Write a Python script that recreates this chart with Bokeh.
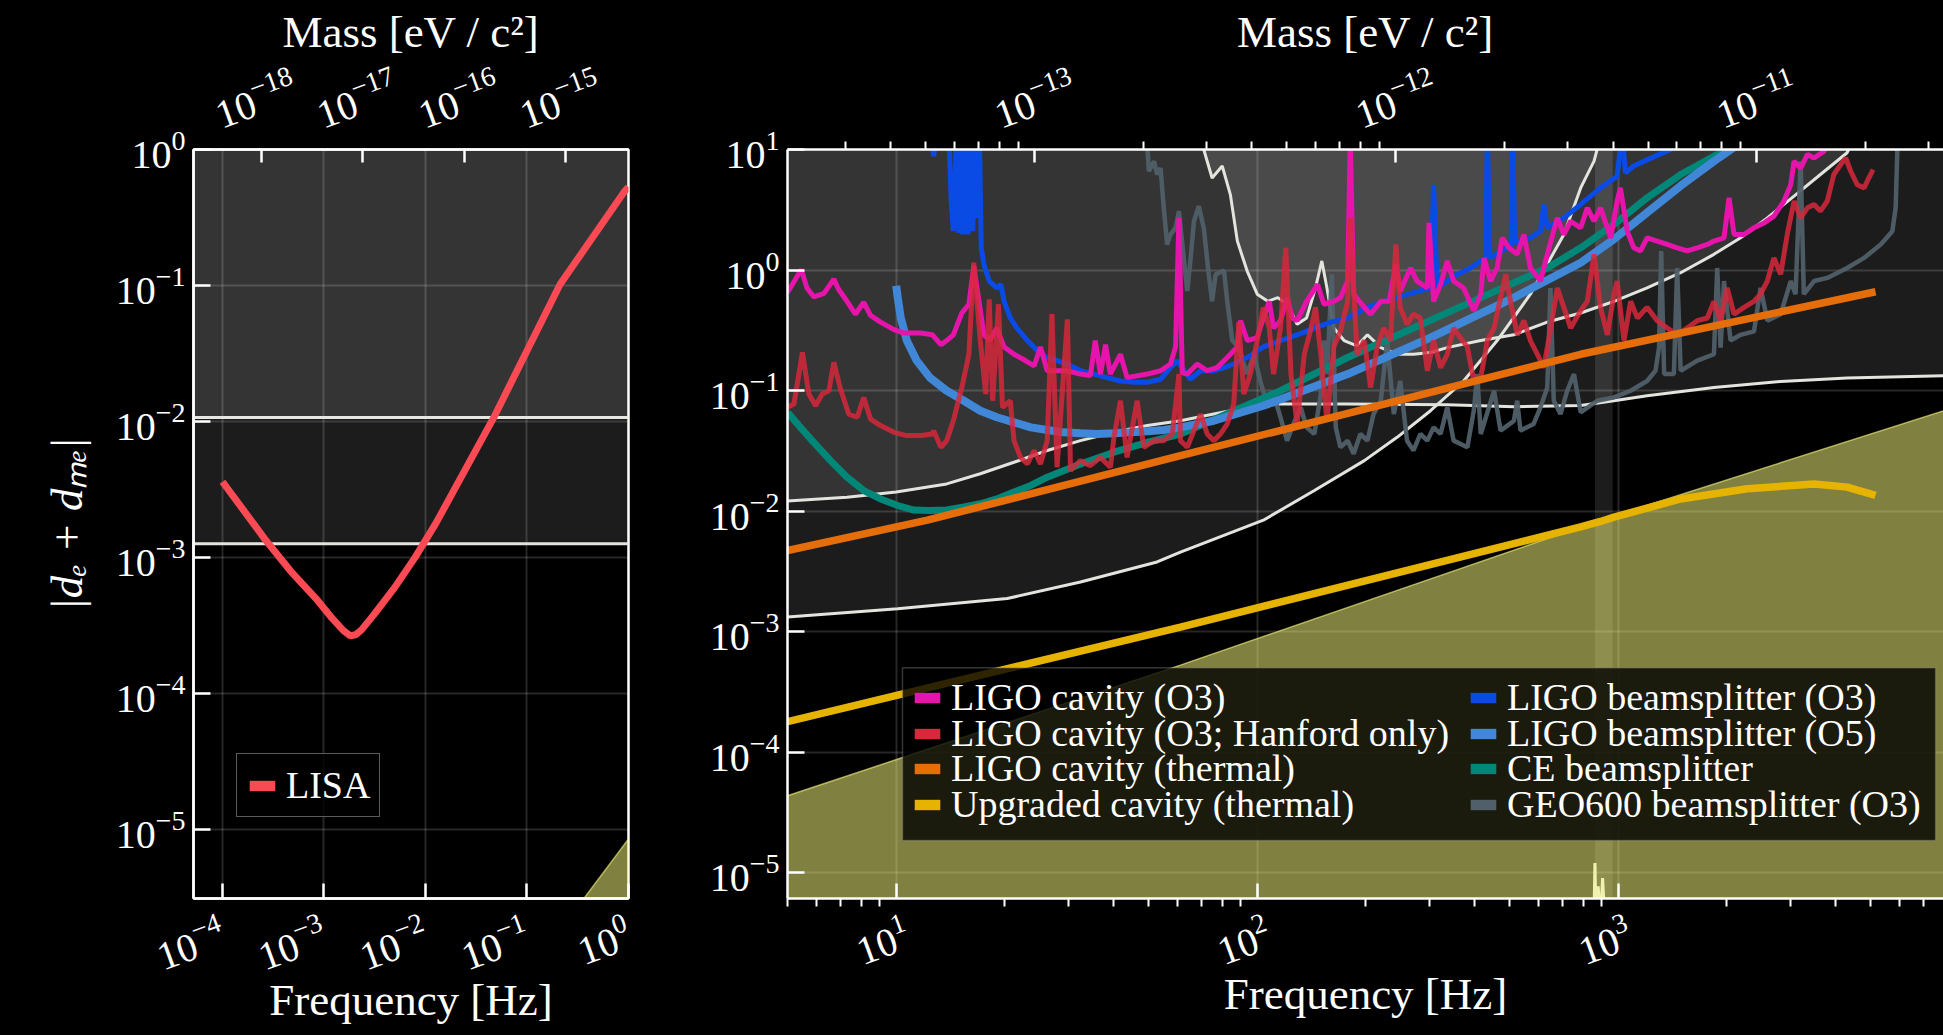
import math
from bokeh.plotting import figure
from bokeh.models import (Range1d, LogAxis, LogScale, FixedTicker, LogTickFormatter,
                          CustomJSTickFormatter, Legend, LegendItem, BoxAnnotation, Span)
from bokeh.layouts import row
from bokeh.embed import file_html
from bokeh.resources import INLINE

EV_PER_HZ = 4.135667696e-15   # mass [eV/c^2] per frequency [Hz]
NAN = float("nan")

# ---------------------------------------------------------------- left panel data (LISA)
left_f_range = [5.18e-5, 1.0]
left_d_range = [3.1e-6, 1.0]
left_f_ticks = [1e-4, 1e-3, 1e-2, 1e-1, 1.0]
left_d_ticks = [1e-5, 1e-4, 1e-3, 1e-2, 1e-1, 1.0]
left_mass_ticks = [1e-18, 1e-17, 1e-16, 1e-15]

lisa_f = [1.0e-4, 2.02e-4, 2.68e-4, 4.71e-4, 8.3e-4, 1.2e-3, 1.55e-3, 1.81e-3, 2.05e-3,
          2.33e-3, 3.09e-3, 4.94e-3, 7.9e-3, 1.26e-2, 4.71e-2, 0.212, 0.91, 1.0]
lisa_d = [3.6e-3, 1.77e-3, 1.33e-3, 7.9e-4, 5.0e-4, 3.57e-4, 2.9e-4, 2.65e-4, 2.7e-4,
          2.92e-4, 3.78e-4, 5.97e-4, 1.0e-3, 1.77e-3, 1.07e-2, 0.102, 0.49, 0.53]
lisa_limits = [1.07e-2, 1.26e-3]

# shared olive region (both panels)
olive_f = [1e-4, 0.34, 1.0, 5.0, 61.3, 787.0, 893.0, 7965.0]
olive_d = [8.5e-10, 2.9e-6, 8.5e-6, 4.34e-5, 5.27e-4, 7.36e-3, 8.4e-3, 0.068]

# ---------------------------------------------------------------- right panel data
right_f_range = [5.0, 7960.0]
right_d_range = [6.1e-6, 10.0]
right_f_ticks = [10, 100, 1000]
right_f_minor = [5, 6, 7, 8, 9, 20, 30, 40, 50, 60, 70, 80, 90,
                 200, 300, 400, 500, 600, 700, 800, 900, 2000, 3000, 4000, 5000, 6000, 7000]
right_d_ticks = [1e-5, 1e-4, 1e-3, 1e-2, 1e-1, 1.0, 10.0]
right_mass_ticks = [1e-13, 1e-12, 1e-11]
right_mass_minor = [3e-14, 4e-14, 5e-14, 6e-14, 7e-14, 8e-14, 9e-14,
                    2e-13, 3e-13, 4e-13, 5e-13, 6e-13, 7e-13, 8e-13, 9e-13,
                    2e-12, 3e-12, 4e-12, 5e-12, 6e-12, 7e-12, 8e-12, 9e-12, 2e-11, 3e-11]

# LIGO cavity (O3)
cav_o3_f = [5.0, 5.46, 5.66, 5.91, 6.31, 6.72, 6.93, 7.31, 7.71, 8.13, 8.49, 9.05, 9.86, 10.5,
            11.7, 12.6, 13.3, 13.8, 14.4, 15.2, 15.9, 16.4, 16.9, 17.5, 18.2, 19.0, 19.9, 21.2,
            22.6, 24.1, 25.1, 26.2, 29.8, 32.4, 34.5, 35.6, 36.8, 38.0, 39.2, 41.8, 43.6, 49.6,
            54.0, 57.5, 59.4, 60.7, 62.0, 64.0, 68.2, 72.7, 77.4, 82.6, 88.1, 89.9, 93.8, 100,
            104, 108, 111, 116, 121, 125, 129, 137, 147, 153, 163, 170, 178, 181, 185, 198, 206,
            220, 232, 242, 249, 266, 277, 296, 299, 308, 322, 336, 350, 373, 398, 416, 425, 443,
            462, 477, 498, 525, 548, 571, 609, 636, 678, 707, 738, 787, 821, 857, 893, 953, 993,
            1014, 1059, 1104, 1153, 1202, 1282, 1367, 1456, 1552, 1655, 1765, 1841, 1963, 2027,
            2093, 2230, 2377, 2535, 2700, 2877, 3004, 3069, 3201, 3342, 3487, 3715, 3875]
cav_o3_d = [0.65, 1.01, 0.71, 0.60, 0.64, 0.84, 0.69, 0.55, 0.43, 0.54, 0.42, 0.37, 0.32, 0.30,
            0.30, 0.29, 0.24, 0.26, 0.29, 0.44, 0.52, 1.08, 0.59, 0.29, 0.26, 0.33, 0.23, 0.20,
            0.18, 0.16, 0.23, 0.146, 0.146, 0.137, 0.133, 0.26, 0.137, 0.24, 0.137, 0.20, 0.128, 0.137,
            0.146, 0.166, 0.23, 2.71, 0.14, 0.137, 0.166, 0.146, 0.155, 0.188, 0.23, 0.38, 0.26, 0.275,
            0.40, 0.55, 0.33, 0.38, 0.59, 0.40, 0.38, 0.55, 0.76, 0.52, 0.55, 0.59, 0.81, 12.0, 0.63, 0.49, 0.43,
            0.55, 0.55, 1.11, 0.67, 1.04, 0.81, 0.71, 2.46, 0.55, 0.76, 1.19, 0.81, 0.71, 0.46, 0.63, 1.26, 0.81,
            1.04, 1.85, 1.53, 1.35, 1.97, 1.04, 0.81, 1.35, 2.71, 1.97, 2.54, 2.24, 3.28, 2.54, 3.28, 1.85, 3.73,
            4.8, 2.10, 1.53, 1.44, 1.85, 1.74, 1.63, 1.53, 1.44, 1.53, 1.63, 1.74, 1.85, 3.97,
            1.97, 1.97, 2.24, 2.46, 2.80, 3.73, 5.1, 8.0, 7.0, 9.1, 8.5, 9.7, 12.0]

# LIGO cavity (O3; Hanford only)
cav_h1_f = [5.0, 5.21, 5.50, 5.73, 5.98, 6.24, 6.51, 6.72, 7.01, 7.39, 7.80, 8.13, 8.49, 9.05,
            9.86, 10.7, 11.7, 12.6, 12.7, 13.3, 13.8, 14.4, 15.2, 15.9, 16.4, 17.1, 17.7, 18.1,
            18.5, 19.2, 19.7, 20.7, 21.2, 22.1, 23.1, 24.1, 25.1, 26.2, 27.0, 27.9, 29.8, 30.4,
            32.4, 34.5, 36.8, 39.2, 40.1, 41.8, 43.6, 46.5, 48.5, 51.8, 55.1, 58.2, 60.7, 61.3,
            64.0, 66.8, 69.7, 72.7, 75.8, 79.1, 82.6, 86.1, 88.9, 91.8, 95.7, 100, 104, 108, 111,
            116, 120, 124, 129, 135, 141, 145, 150, 156, 163, 170, 178, 181, 189, 198, 206, 215,
            224, 234, 242, 249, 260, 271, 283, 296, 308, 322, 336, 350, 365, 382, 398, 416, 434,
            453, 472, 488, 503, 525, 548, 571, 597, 622, 650, 678, 707, 738, 787, 821, 857, 893,
            933, 973, 993, 1037, 1082, 1130, 1202, 1282, 1367, 1456, 1552, 1655, 1765, 1841, 1920,
            2003, 2093, 2230, 2377, 2479, 2588, 2700, 2818, 2938, 3069, 3201, 3342, 3487, 3631,
            3793, 3955, 4130, 4266, 4406, 4592, 4797, 4943, 5082]
cav_h1_d = [0.0725, 0.0773, 0.207, 0.0935, 0.0748, 0.0935, 0.0996, 0.171, 0.103, 0.0638, 0.060, 0.0877, 0.058, 0.0512,
            0.045, 0.0423, 0.0423, 0.0436, 0.0465, 0.0338, 0.0384, 0.0562, 0.106, 0.20, 1.15, 0.26, 0.0935, 0.57,
            0.0823, 0.52, 0.0725, 0.0823, 0.0384, 0.0279, 0.0246, 0.0318, 0.0246, 0.0384, 0.43, 0.0231, 0.39, 0.0217,
            0.0262, 0.0238, 0.0279, 0.0231, 0.0409, 0.0823, 0.0279, 0.0823, 0.0338, 0.0384, 0.0384, 0.0436, 0.137, 0.0384,
            0.0338, 0.0465, 0.0638, 0.0436, 0.0384, 0.0436, 0.0528, 0.0773, 0.37, 0.0935, 0.137, 0.26, 0.49, 0.33, 0.137,
            0.33, 1.53, 0.137, 0.0528, 0.20, 0.33, 0.49, 0.20, 0.0562, 0.23, 0.31, 0.55, 2.71, 0.20, 0.26, 0.106, 0.23,
            0.33, 0.26, 1.63, 0.49, 0.355, 0.43, 0.40, 0.146, 0.26, 0.155, 0.20, 0.33, 0.275, 0.23, 0.12, 0.128, 0.26,
            0.33, 0.59, 0.92, 0.55, 0.29, 0.38, 0.26, 0.20, 0.155, 0.33, 0.71, 0.49, 0.33, 0.46, 0.55, 1.35, 0.49,
            0.29, 0.63, 0.81, 0.26, 0.55, 0.40, 0.49, 0.38, 0.33, 0.29, 0.33, 0.38, 0.40, 0.55, 0.38,
            0.71, 0.43, 0.49, 0.55, 0.63, 0.81, 1.26, 0.92, 1.97, 3.73, 2.71, 3.28, 3.50, 3.08,
            3.73, 6.2, 7.5, 8.5, 6.6, 5.1, 4.8, 5.8, 6.8]

# LIGO cavity (thermal)
cav_th_f = [5.0, 12.2, 61.3, 787.0, 5160.0]
cav_th_d = [4.7e-3, 8.4e-3, 0.0288, 0.20, 0.66]

# Upgraded cavity (thermal)
up_th_f = [5.0, 61.3, 787.0, 893.0, 973.0, 1489.0, 2277.0, 3487.0, 4305.0, 5160.0]
up_th_d = [1.79e-4, 1.09e-3, 7.4e-3, 8.2e-3, 8.9e-3, 0.0126, 0.0153, 0.0168, 0.0158, 0.0135]

# LIGO beamsplitter (O3)
bs_o3_f = [12.4, 12.7, 13.0, 14.0, 14.2, 14.4, 14.7, 14.9, 15.1, 15.3, 15.6, 15.8, 16.0, 16.3,
           16.5, 16.8, 17.0, 17.2, 17.5, 18.1, 19.0, 19.5, 19.9, 20.7, 21.6, 23.1, 24.6, 26.2,
           27.9, 29.8, 32.4, 35.3, 38.4, 41.8, 45.5, 49.6, 54.0, 57.5, 60.0, 65.3, 69.7, 75.8,
           80.9, 86.1, 93.8, 104, 116, 129, 144, 160, 178, 202, 220, 244, 271, 302, 308, 315,
           336, 358, 390, 416, 429, 434, 441, 492, 505, 510, 517, 571, 609, 622, 636, 707, 787,
           838, 893, 953, 993, 1025, 1047, 1104, 1202, 1309, 1396, 1456]
bs_o3_d = [14.0, 8.8, 14.0, 14.0, 3.73, 2.10, 14.0, 2.03, 14.0, 1.97, 14.0, 1.97, 14.0, 2.1,
           14.0, 2.71, 14.0, 1.53, 1.11, 0.81, 0.71, 0.76, 0.55, 0.40, 0.33, 0.26, 0.214, 0.188,
           0.177, 0.166, 0.146, 0.137, 0.128, 0.12, 0.117, 0.117, 0.124, 0.155, 0.177, 0.124, 0.146, 0.146,
           0.155, 0.166, 0.188, 0.23, 0.26, 0.29, 0.33, 0.37, 0.40, 0.49, 0.54, 0.59, 0.65, 0.71, 5.1, 0.71,
           0.81, 0.92, 1.04, 1.19, 1.19, 14.0, 1.26, 1.53, 1.63, 14.0, 1.68, 1.85, 2.10, 3.50, 2.24, 2.71, 3.50,
           4.1, 4.8, 5.5, 6.0, 14.0, 6.4, 7.3, 8.2, 9.2, 10.0, 12.0]

# LIGO beamsplitter (O5)
bs_o5_f = [10.0, 10.1, 10.3, 10.7, 11.4, 12.4, 13.8, 15.4, 17.1, 19.0, 21.2, 23.6, 26.2, 29.1,
           32.4, 36.0, 40.1, 44.6, 49.6, 55.1, 61.3, 75.8, 104, 178, 302, 514, 787, 973, 1202,
           1489, 1841, 2100]
bs_o5_d = [0.74, 0.59, 0.40, 0.26, 0.177, 0.128, 0.0996, 0.0823, 0.068, 0.060, 0.0545, 0.0495, 0.0471, 0.045,
           0.0442, 0.0436, 0.0442, 0.045, 0.0459, 0.0471, 0.0495, 0.0562, 0.0748, 0.137, 0.275, 0.59, 1.15, 1.8, 3.0,
           5.0, 8.0, 10.5]

# CE beamsplitter
ce_f = [5.0, 5.43, 5.91, 6.58, 7.31, 8.13, 9.05, 10.1, 11.2, 12.4, 13.8, 15.4, 17.1, 19.0, 21.2,
        23.6, 26.2, 32.4, 40.1, 49.6, 61.3, 116, 178, 271, 416, 636, 787, 973, 1202, 1489, 1841, 2047]
ce_d = [0.066, 0.0495, 0.0372, 0.0262, 0.0191, 0.0148, 0.0126, 0.0111, 0.0102, 0.0101, 0.0102, 0.0108, 0.0115, 0.0126, 0.0144,
        0.0163, 0.0191, 0.0246, 0.0308, 0.0372, 0.0436, 0.0996, 0.188, 0.33, 0.59, 1.04, 1.53, 2.39, 3.97, 6.2, 8.8, 10.3]

# GEO600 beamsplitter (O3)
geo_f = [49.5, 50.1, 51.8, 52.8, 54.0, 55.1, 56.3, 57.5, 59.4, 60.7, 62.6, 64.0, 65.3, 66.8, 68.9,
         71.1, 73.4, 75.0, 76.7, 80.9, 82.6, 85.3, 88.9, 93.8, 97.9, 102, 107, 111, 116, 121, 126,
         132, 137, 144, 150, 153, 156, 161, 165, 170, 178, 185, 193, 202, 210, 220, 229, 239, 249,
         260, 271, 283, 296, 308, 322, 336, 350, 382, 398, 407, 416, 453, 472, 514, 525, 536, 583,
         609, 636, 649, 663, 692, 722, 754, 787, 875, 973, 1082, 1202, 1268, 1297, 1315, 1340, 1426,
         1456, 1489, 1655, 1841, 1880, 1921, 1963, 2047, 2183, 2377, 2479, 2588, 2818, 3004, 3098,
         3201, 3266, 3487, 3793, 4305, 4797, 5333, 5745, 5867, 5929, 5980]
geo_d = [12.0, 6.6, 8.0, 6.2, 7.0, 3.28, 1.63, 1.97, 2.24, 3.08, 1.26, 0.67, 1.19, 2.54, 3.39,
         2.24, 0.92, 0.55, 0.92, 0.99, 0.55, 0.26, 0.227, 0.137, 0.20, 0.12, 0.0725, 0.0935, 0.060, 0.0384, 0.0528,
         0.0725, 0.0495, 0.0436, 0.0935, 0.26, 0.137, 0.92, 0.0495, 0.0338, 0.0384, 0.0298, 0.0436, 0.0384, 0.0638, 0.0823, 0.26, 0.0638, 0.12,
         0.0384, 0.0318, 0.0436, 0.0384, 0.0495, 0.0436, 0.0725, 0.0384, 0.0338, 0.068, 0.137, 0.0436, 0.0996, 0.0465, 0.056, 0.0823, 0.0465, 0.0528,
         0.0725, 0.106, 0.71, 0.0823, 0.0638, 0.0996, 0.137, 0.066, 0.0823, 0.0877, 0.0996, 0.12, 0.146, 0.227, 1.44, 0.137, 0.137,
         1.04, 0.146, 0.177, 0.20, 1.04, 0.227, 0.81, 0.26, 0.29, 0.31, 0.71, 0.38, 0.43, 0.81, 0.63,
         8.0, 0.63, 0.81, 0.86, 1.04, 1.26, 1.63, 2.10, 3.28, 9.7, 12.0]

# existing constraints (white curves, shaded above)
con_a_f = [5.0, 7.31, 10.0, 13.8, 17.1, 21.2, 26.2, 32.4, 40.1, 49.6, 61.3, 75.8, 93.8, 116, 178,
           336, 514, 787, 973, 1202, 1841, 2818, 4305, 7965]
con_a_d = [0.0121, 0.0130, 0.0144, 0.0168, 0.0204, 0.0254, 0.0318, 0.0384, 0.045, 0.0512, 0.0562, 0.0638, 0.0725, 0.0773, 0.0773,
           0.0762, 0.0734, 0.075, 0.0823, 0.0906, 0.106, 0.119, 0.127, 0.133]
con_b_f = [69.7, 71.1, 75.0, 80.0, 84.3, 88.1, 93.8, 100, 107, 114, 121, 129, 137, 145, 151, 156,
           163, 174, 189, 202, 220, 244, 271, 302, 336, 416, 514, 636, 787, 973, 1202, 1489, 1841,
           2183, 2588, 3069, 3631, 4305, 4580]
con_b_d = [14.0, 10.0, 5.8, 7.3, 4.2, 1.74, 0.98, 0.63, 0.55, 0.59, 0.52, 0.355, 0.40, 0.71, 1.19, 0.71,
           0.33, 0.26, 0.235, 0.29, 0.227, 0.20, 0.20, 0.207, 0.227, 0.26, 0.29, 0.37, 0.44, 0.55, 0.71, 0.95, 1.35,
           1.85, 2.71, 4.1, 6.2, 9.4, 14.0]
con_c_f = [5.0, 10.1, 20.3, 32.4, 52.8, 61.3, 104, 144, 198, 244, 302, 373, 462, 571, 707, 787, 857, 900]
con_c_d = [1.32e-3, 1.55e-3, 1.88e-3, 2.58e-3, 3.78e-3, 4.57e-3, 8.4e-3, 0.0148, 0.0262, 0.0409, 0.068, 0.12,
           0.26, 0.63, 1.97, 4.8, 8.0, 14.0]
auriga_band = [862.0, 965.0]
auriga_f = [856, 862, 868, 880, 893, 905, 918, 935, 950]
auriga_d = [4e-6, 1.2e-5, 4e-6, 7.7e-6, 4e-6, 9e-6, 4e-6, 6e-6, 4e-6]

legend_col1 = ["LIGO cavity (O3)", "LIGO cavity (O3; Hanford only)",
               "LIGO cavity (thermal)", "Upgraded cavity (thermal)"]
legend_col2 = ["LIGO beamsplitter (O3)", "LIGO beamsplitter (O5)",
               "CE beamsplitter", "GEO600 beamsplitter (O3)"]

# ---------------------------------------------------------------- styling / layout constants
FONT = "Liberation Serif"
WHITE_LINE = "#e2e4de"
OLIVE = "#ffff80"
C_LISA = "#fc4a55"
C_CAV_O3 = "#e614aa"
C_CAV_H1 = "#d7283c"
C_CAV_TH = "#e66e0a"
C_UP_TH = "#e6b400"
C_BS_O3 = "#0a4be6"
C_BS_O5 = "#4187d7"
C_CE = "#008778"
C_GEO = "#505f69"
SHADE_ALPHA = 0.11
TOP = 100.0
BOTTOM = 1e-12
FRAME_H = 749
LABEL_ANGLE = 0.35
# horizontal nudges of the rotated tick labels (label-only axes on slightly shifted ranges)
TOP_SHIFT_LEFT = 2.84     # left panel, mass labels moved ~46 px left
TOP_SHIFT_RIGHT = 1.291   # right panel, mass labels moved ~40 px left
BOT_SHIFT_RIGHT = 0.932   # right panel, frequency labels moved ~11 px right
# legend box corners (in data units of the right panel) and row layout
LEG_BOX = dict(left=10.41, right=7568.0, top=5.0e-4, bottom=1.85e-5)
LEG_ROWS_Y = [179, 143, 108, 72]
LEG_COLS_X = [124, 680]


def base_axis(ax, minor=False, tick_in=15):
    ax.axis_line_color = "white"
    ax.axis_line_width = 2.5
    ax.major_tick_line_color = "white"
    ax.major_tick_line_width = 2.5
    ax.major_tick_in = tick_in
    ax.major_tick_out = 0
    if minor:
        ax.minor_tick_line_color = "white"
        ax.minor_tick_line_width = 2
        ax.minor_tick_in = 0
        ax.minor_tick_out = 8
    else:
        ax.minor_tick_line_color = None
        ax.minor_tick_in = 0
        ax.minor_tick_out = 0
    ax.axis_label_text_color = "white"
    ax.axis_label_text_font = FONT
    ax.axis_label_text_font_size = "45px"
    ax.axis_label_text_font_style = "normal"


def with_labels(ax, standoff, rotate=False):
    ax.formatter = LogTickFormatter()
    ax.major_label_text_color = "white"
    ax.major_label_text_font = FONT
    ax.major_label_text_font_size = "40px"
    ax.major_label_standoff = standoff
    if rotate:
        ax.major_label_orientation = LABEL_ANGLE


def no_labels(ax):
    ax.formatter = CustomJSTickFormatter(code="return ''")
    ax.major_label_text_font_size = "1px"
    ax.major_label_standoff = 0


def label_axis(range_name, ticks, standoff, label, label_standoff):
    ax = LogAxis(x_range_name=range_name, ticker=FixedTicker(ticks=ticks, minor_ticks=[]),
                 axis_label=label)
    base_axis(ax, tick_in=0)
    ax.axis_line_color = None
    ax.major_tick_line_color = None
    ax.major_tick_in = 0
    with_labels(ax, standoff, rotate=True)
    ax.axis_label_standoff = label_standoff
    return ax


def style_grid(p):
    for g in (p.xgrid, p.ygrid):
        g.grid_line_color = "white"
        g.grid_line_alpha = 0.15
        g.grid_line_width = 2


def style_legend(leg, boxed=True, padding=9):
    leg.label_text_font = FONT
    leg.label_text_font_size = "38px"
    leg.label_text_color = "white"
    leg.label_text_line_height = 0.9
    if boxed:
        leg.background_fill_color = "black"
        leg.background_fill_alpha = 0.8
        leg.border_line_color = "#b4b4b4"
        leg.border_line_width = 1.5
    else:
        leg.background_fill_alpha = 0.0
        leg.border_line_color = None
    leg.glyph_width = 32
    leg.glyph_height = 13
    leg.label_standoff = 8
    leg.padding = padding
    leg.margin = 0
    leg.spacing = 0


def patch(p, color):
    # legend swatch only; a NaN quad draws nothing in the plot
    return p.quad(left=[NAN], right=[NAN], top=[NAN], bottom=[NAN], fill_color=color, line_color=None)


# ---------------------------------------------------------------- left figure
p1 = figure(x_axis_type="log", y_axis_type="log",
            x_range=Range1d(*left_f_range), y_range=Range1d(*left_d_range),
            frame_width=435, frame_height=FRAME_H,
            min_border_left=193, min_border_right=72, min_border_top=149, min_border_bottom=136,
            background_fill_color="black", border_fill_color="black",
            outline_line_color="white", outline_line_width=2.5,
            output_backend="svg", toolbar_location=None)
p1.xaxis.ticker = FixedTicker(ticks=left_f_ticks, minor_ticks=[])
p1.yaxis.ticker = FixedTicker(ticks=left_d_ticks, minor_ticks=[])
for ax in p1.xaxis:
    base_axis(ax)
    with_labels(ax, 31, rotate=True)
    ax.axis_label = "Frequency [Hz]"
    ax.axis_label_standoff = -16
for ax in p1.yaxis:
    base_axis(ax, tick_in=17)
    with_labels(ax, 8)
    ax.axis_label = "|dₑ + dₘₑ|"
    ax.axis_label_text_font_style = "italic"
    ax.axis_label_standoff = 21
style_grid(p1)

mass_lo, mass_hi = left_f_range[0] * EV_PER_HZ, left_f_range[1] * EV_PER_HZ
p1.extra_x_ranges = {"mass": Range1d(mass_lo, mass_hi),
                     "mass_lbl": Range1d(mass_lo * TOP_SHIFT_LEFT, mass_hi * TOP_SHIFT_LEFT)}
p1.extra_x_scales = {"mass": LogScale(), "mass_lbl": LogScale()}
top1 = LogAxis(x_range_name="mass", ticker=FixedTicker(ticks=left_mass_ticks, minor_ticks=[]))
base_axis(top1, tick_in=13)
no_labels(top1)
p1.add_layout(top1, "above")
p1.add_layout(label_axis("mass_lbl", left_mass_ticks, 38, "Mass [eV / c²]", -12), "above")

for lim in lisa_limits:
    p1.add_layout(BoxAnnotation(bottom=lim, fill_color="white", fill_alpha=SHADE_ALPHA,
                                line_color=None, level="underlay"))
    p1.add_layout(Span(location=lim, dimension="width", line_color=WHITE_LINE,
                       line_width=3, level="underlay"))

p1.varea(x=olive_f, y1=[BOTTOM] * len(olive_f), y2=olive_d, fill_color=OLIVE, fill_alpha=0.5)
p1.line(olive_f, olive_d, line_color=OLIVE, line_alpha=0.6, line_width=1.5)
p1.line(lisa_f, lisa_d, line_color=C_LISA, line_width=7)

leg1 = Legend(items=[LegendItem(label="LISA", renderers=[patch(p1, C_LISA)])], location=(43, 81))
style_legend(leg1)
p1.add_layout(leg1)

# ---------------------------------------------------------------- right figure
p2 = figure(x_axis_type="log", y_axis_type="log",
            x_range=Range1d(*right_f_range), y_range=Range1d(*right_d_range),
            frame_width=1156, frame_height=FRAME_H,
            min_border_left=87, min_border_right=0, min_border_top=149, min_border_bottom=136,
            background_fill_color="black", border_fill_color="black",
            outline_line_color=None,
            output_backend="svg", toolbar_location=None)
p2.xaxis.ticker = FixedTicker(ticks=right_f_ticks, minor_ticks=right_f_minor)
p2.yaxis.ticker = FixedTicker(ticks=right_d_ticks, minor_ticks=[])
for ax in p2.xaxis:
    base_axis(ax, minor=True)
    no_labels(ax)
for ax in p2.yaxis:
    base_axis(ax, tick_in=17)
    with_labels(ax, 8)
style_grid(p2)

f_lo, f_hi = right_f_range
mass2_lo, mass2_hi = f_lo * EV_PER_HZ, f_hi * EV_PER_HZ
p2.extra_x_ranges = {"f_lbl": Range1d(f_lo * BOT_SHIFT_RIGHT, f_hi * BOT_SHIFT_RIGHT),
                     "mass": Range1d(mass2_lo, mass2_hi),
                     "mass_lbl": Range1d(mass2_lo * TOP_SHIFT_RIGHT, mass2_hi * TOP_SHIFT_RIGHT)}
p2.extra_x_scales = {"f_lbl": LogScale(), "mass": LogScale(), "mass_lbl": LogScale()}
p2.add_layout(label_axis("f_lbl", right_f_ticks, 23, "Frequency [Hz]", -17), "below")
top2 = LogAxis(x_range_name="mass", ticker=FixedTicker(ticks=right_mass_ticks, minor_ticks=right_mass_minor))
base_axis(top2, minor=True, tick_in=13)
no_labels(top2)
p2.add_layout(top2, "above")
p2.add_layout(label_axis("mass_lbl", right_mass_ticks, 30, "Mass [eV / c²]", -12), "above")

# shaded existing constraints
for cf, cd in ((con_c_f, con_c_d), (con_a_f, con_a_d), (con_b_f, con_b_d)):
    p2.varea(x=cf, y1=cd, y2=[TOP] * len(cf), fill_color="white", fill_alpha=SHADE_ALPHA)
p2.add_layout(BoxAnnotation(left=auriga_band[0], right=auriga_band[1], fill_color="white",
                            fill_alpha=SHADE_ALPHA, line_color=None, level="underlay"))
for cf, cd in ((con_c_f, con_c_d), (con_a_f, con_a_d), (con_b_f, con_b_d), (auriga_f, auriga_d)):
    p2.line(cf, cd, line_color=WHITE_LINE, line_width=3)

p2.varea(x=olive_f, y1=[BOTTOM] * len(olive_f), y2=olive_d, fill_color=OLIVE, fill_alpha=0.5)
p2.line(olive_f, olive_d, line_color=OLIVE, line_alpha=0.6, line_width=1.5)

p2.line(geo_f, geo_d, line_color=C_GEO, line_width=4.5, line_alpha=0.95)
p2.line(ce_f, ce_d, line_color=C_CE, line_width=7)
p2.line(bs_o5_f, bs_o5_d, line_color=C_BS_O5, line_width=8)
p2.line(bs_o3_f, bs_o3_d, line_color=C_BS_O3, line_width=5)
p2.line(cav_o3_f, cav_o3_d, line_color=C_CAV_O3, line_width=5)
p2.line(cav_h1_f, cav_h1_d, line_color=C_CAV_H1, line_width=5, line_alpha=0.85)
p2.line(cav_th_f, cav_th_d, line_color=C_CAV_TH, line_width=7.5)
p2.line(up_th_f, up_th_d, line_color=C_UP_TH, line_width=7.5)

# legend: framed box + one single-row legend per entry (tight row pitch as in the reference)
p2.add_layout(BoxAnnotation(**LEG_BOX, fill_color="black", fill_alpha=0.8,
                            line_color="#b4b4b4", line_width=1.5))
col_colors = [[C_CAV_O3, C_CAV_H1, C_CAV_TH, C_UP_TH], [C_BS_O3, C_BS_O5, C_CE, C_GEO]]
for ci, labels in enumerate((legend_col1, legend_col2)):
    for ri, lab in enumerate(labels):
        leg = Legend(items=[LegendItem(label=lab, renderers=[patch(p2, col_colors[ci][ri])])],
                     location=(LEG_COLS_X[ci], LEG_ROWS_Y[ri]))
        style_legend(leg, boxed=False, padding=0)
        p2.add_layout(leg)

layout = row(p1, p2)
html = file_html(layout, INLINE)
html = html.replace("<head>", "<head><style>html, body { background: #000000; }</style>", 1)
open("out.html", "w").write(html)
